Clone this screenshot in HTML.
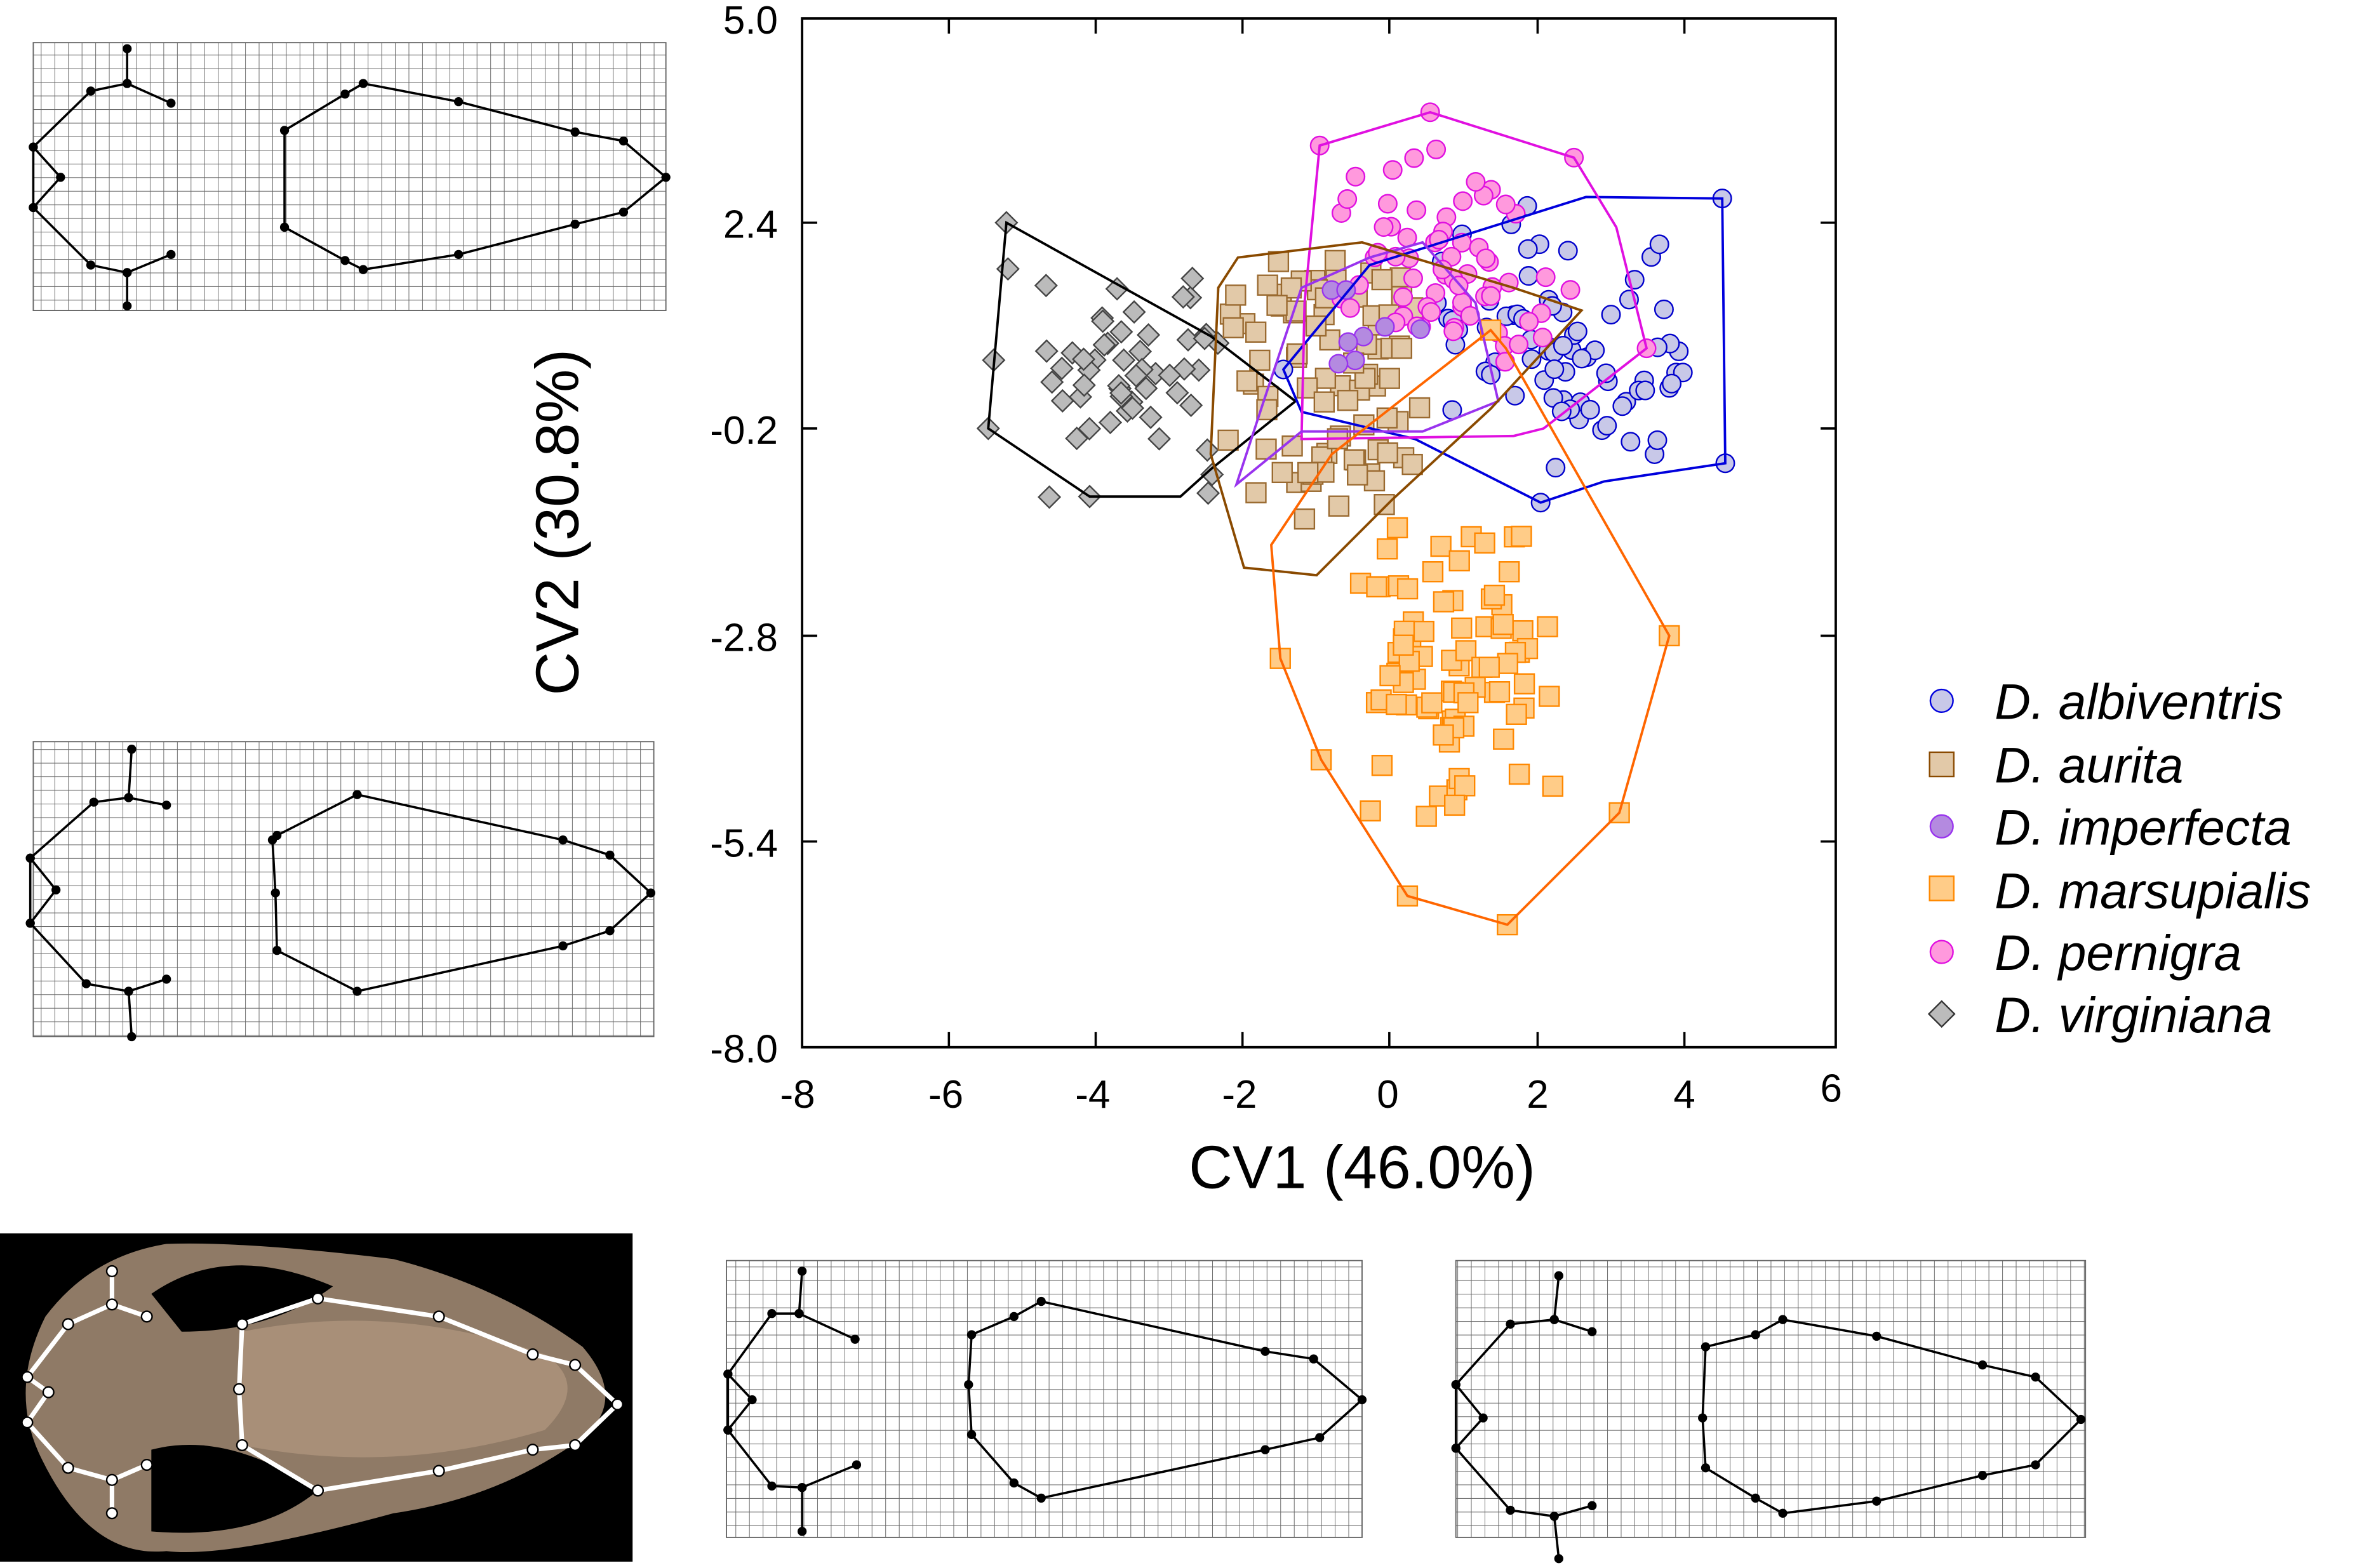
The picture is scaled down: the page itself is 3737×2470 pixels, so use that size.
<!DOCTYPE html>
<html><head><meta charset="utf-8"><style>
html,body{margin:0;padding:0;background:#fff;}
svg{display:block;}
text{font-family:"Liberation Sans",Arial,sans-serif;}
</style></head><body>
<svg id="s" width="3737" height="2470" viewBox="0 0 1568 1036" xmlns="http://www.w3.org/2000/svg">
<defs>
<pattern id="g" width="9" height="9" patternUnits="userSpaceOnUse">
<path d="M0 0H9M0 0V9" stroke="#666" stroke-width="0.8" fill="none"/>
</pattern>
</defs>
<rect x="22" y="28" width="418" height="177" fill="url(#g)" stroke="#666" stroke-width="0.8"/>
<rect x="22" y="490" width="410" height="195" fill="url(#g)" stroke="#666" stroke-width="0.8"/>
<rect x="480" y="833" width="420" height="183" fill="url(#g)" stroke="#666" stroke-width="0.8"/>
<rect x="962" y="833" width="416" height="183" fill="url(#g)" stroke="#666" stroke-width="0.8"/>
<g id="shapes" stroke="#000" stroke-width="1.5" fill="none"></g>
<rect x="0" y="815" width="418" height="217" fill="#000"/>
<g>
<path d="M30 870 Q60 830 110 822 Q160 820 260 832 Q330 850 385 890 Q415 925 385 950 Q330 990 260 1000 Q150 1030 110 1025 Q60 1030 28 965 Q5 920 30 870Z" fill="#8f7a66"/>
<path d="M160 880 Q260 860 360 895 Q390 915 360 945 Q260 975 160 955Z" fill="#a88f78"/>
<path d="M100 855 Q150 820 220 850 Q180 880 120 880Z" fill="#000"/>
<path d="M100 958 Q150 945 210 985 Q170 1018 100 1012Z" fill="#000"/>
<polyline points="74,840 74,862 45,875 18,910 32,920 18,940 45,970 74,978 74,1000" stroke="#fff" stroke-width="3" fill="none"/>
<polyline points="74,862 97,870" stroke="#fff" stroke-width="3"/>
<polyline points="74,978 97,968" stroke="#fff" stroke-width="3"/>
<polyline points="158,918 160,875 210,858 290,870 352,895 380,902 408,928 380,955 352,958 290,972 210,985 160,955 158,918" stroke="#fff" stroke-width="3" fill="none"/>
</g>
<g id="photodots" fill="#fff" stroke="#000" stroke-width="1"></g>
<rect x="530" y="12" width="683" height="680" fill="#fff" stroke="#000" stroke-width="1.6"/>
<g stroke="#000" stroke-width="1.5">
<line x1="530" y1="147" x2="540" y2="147"/><line x1="530" y1="283" x2="540" y2="283"/><line x1="530" y1="420" x2="540" y2="420"/><line x1="530" y1="556" x2="540" y2="556"/>
<line x1="1203" y1="147" x2="1213" y2="147"/><line x1="1203" y1="283" x2="1213" y2="283"/><line x1="1203" y1="420" x2="1213" y2="420"/><line x1="1203" y1="556" x2="1213" y2="556"/>
<line x1="627" y1="692" x2="627" y2="682"/><line x1="724" y1="692" x2="724" y2="682"/><line x1="821" y1="692" x2="821" y2="682"/><line x1="918" y1="692" x2="918" y2="682"/><line x1="1016" y1="692" x2="1016" y2="682"/><line x1="1113" y1="692" x2="1113" y2="682"/>
<line x1="627" y1="12" x2="627" y2="22"/><line x1="724" y1="12" x2="724" y2="22"/><line x1="821" y1="12" x2="821" y2="22"/><line x1="918" y1="12" x2="918" y2="22"/><line x1="1016" y1="12" x2="1016" y2="22"/><line x1="1113" y1="12" x2="1113" y2="22"/>
</g>
<g font-size="26" text-anchor="end" fill="#000">
<text x="514" y="22">5.0</text><text x="514" y="157">2.4</text><text x="514" y="293">-0.2</text><text x="514" y="430">-2.8</text><text x="514" y="566">-5.4</text><text x="514" y="702">-8.0</text>
</g>
<g font-size="26" text-anchor="middle" fill="#000">
<text x="527" y="732">-8</text><text x="625" y="732">-6</text><text x="722" y="732">-4</text><text x="819" y="732">-2</text><text x="917" y="732">0</text><text x="1016" y="732">2</text><text x="1113" y="732">4</text><text x="1210" y="728">6</text>
</g>
<text x="900" y="785" font-size="40" text-anchor="middle">CV1 (46.0%)</text>
<text transform="translate(382,345) rotate(-90)" font-size="40" text-anchor="middle">CV2 (30.8%)</text>
<g id="pts"></g>
<g fill="none" stroke-width="1.6">
<polygon stroke="#000" points="665,147 800,222 856,265 800,310 780,328 720,328 653,283"/>
<polygon stroke="#0000dd" points="848,244 905,175 1048,130 1138,131 1140,306 1060,318 1018,332 935,290 860,272"/>
<polygon stroke="#e010e0" points="872,96 945,74 1040,104 1068,150 1088,230 1020,283 1000,288 860,290 862,200"/>
<polygon stroke="#9933ee" points="817,320 835,265 860,190 905,170 940,160 975,200 990,265 940,285 860,285"/>
<polygon stroke="#8a4a00" points="800,300 805,190 818,170 900,160 1000,190 1045,205 985,270 920,330 870,380 822,375"/>
<polygon stroke="#ff6600" points="985,218 995,230 1103,420 1070,537 996,611 930,592 873,502 846,435 840,360 880,300"/>
</g>
<g font-size="33" font-style="italic" fill="#000">
<circle cx="1283" cy="463" r="7.5" fill="#c8c8e8" stroke="#0000dd"/><text x="1318" y="475">D. albiventris</text>
<rect x="1275" y="497" width="16" height="16" fill="#e2c9a8" stroke="#8a4a00"/><text x="1318" y="517">D. aurita</text>
<circle cx="1283" cy="546" r="7.5" fill="#b48ae0" stroke="#9933ee"/><text x="1318" y="558">D. imperfecta</text>
<rect x="1275" y="579" width="16" height="16" fill="#ffcc88" stroke="#ff8800"/><text x="1318" y="600">D. marsupialis</text>
<circle cx="1283" cy="629" r="7.5" fill="#ff99dd" stroke="#e010e0"/><text x="1318" y="641">D. pernigra</text>
<rect x="1277" y="664" width="12" height="12" fill="#bbb" stroke="#333" transform="rotate(45 1283 670)"/><text x="1318" y="682">D. virginiana</text>
</g>
</svg>
<script>
var NS="http://www.w3.org/2000/svg",s=document.getElementById('shapes');
function el(p,t,a){var e=document.createElementNS(NS,t);for(var k in a)e.setAttribute(k,a[k]);p.appendChild(e);return e;}
function skull(L,R){
 var f=function(a){return a.map(function(p){return p[0]+","+p[1]}).join(" ")};
 L.forEach(function(c){el(s,'polyline',{points:f(c)});});
 el(s,'polygon',{points:f(R)});
 var all=[];L.forEach(function(c){all=all.concat(c)});all=all.concat(R);
 all.forEach(function(p){el(s,'circle',{cx:p[0],cy:p[1],r:3,fill:'#000',stroke:'none'});});
}
skull([[[84,32],[84,55],[113,68]],[[84,55],[60,60],[22,97],[40,117],[22,137],[60,175],[84,180],[113,168]],[[22,97],[22,137]],[[84,180],[84,202]]],
 [[188,86],[228,62],[240,55],[303,67],[380,87],[412,93],[440,117],[412,140],[380,148],[303,168],[240,178],[228,172],[188,150]]);
skull([[[87,495],[85,527],[110,532]],[[85,527],[62,530],[20,567],[37,588],[20,610],[57,650],[85,655],[110,647]],[[20,567],[20,610]],[[85,655],[87,685]]],
 [[180,555],[183,552],[236,525],[372,555],[403,565],[430,590],[403,615],[372,625],[236,655],[183,628],[182,590]]);
skull([[[530,840],[528,868],[565,885]],[[528,868],[510,868],[481,908],[497,925],[481,945],[510,982],[530,983],[566,968]],[[481,908],[481,945]],[[530,983],[530,1012]]],
 [[642,882],[670,870],[688,860],[836,893],[868,898],[900,925],[872,950],[836,958],[688,990],[670,980],[642,948],[640,915]]);
skull([[[1030,843],[1027,872],[1052,880]],[[1027,872],[998,875],[962,915],[980,937],[962,957],[998,998],[1027,1002],[1052,995]],[[962,915],[962,957]],[[1027,1002],[1030,1030]]],
 [[1127,890],[1160,882],[1178,872],[1240,883],[1310,902],[1345,910],[1375,938],[1345,968],[1310,975],[1240,992],[1178,1000],[1160,990],[1127,970],[1125,937]]);
var pd=document.getElementById('photodots');
[[74,840],[74,862],[45,875],[18,910],[32,920],[18,940],[45,970],[74,978],[74,1000],[97,870],[97,968],[158,918],[160,875],[210,858],[290,870],[352,895],[380,902],[408,928],[380,955],[352,958],[290,972],[210,985],[160,955]].forEach(function(p){el(pd,'circle',{cx:p[0],cy:p[1],r:3.5});});
var seed=7;function r(){seed=(seed*16807)%2147483647;return seed/2147483647;}
function g(){return (r()+r()-1);}
var P=document.getElementById('pts');
function cloud(n,cx,cy,sx,sy,type,fill,stroke){for(var i=0;i<n;i++){var x=cx+g()*sx,y=cy+g()*sy;
 if(type=='c')el(P,'circle',{cx:x,cy:y,r:6,fill:fill,stroke:stroke,'stroke-width':1});
 else if(type=='s')el(P,'rect',{x:x-6.5,y:y-6.5,width:13,height:13,fill:fill,stroke:stroke,'stroke-width':1});
 else el(P,'rect',{x:x-5,y:y-5,width:10,height:10,fill:fill,stroke:stroke,'stroke-width':1,transform:'rotate(45 '+x+' '+y+')'});}}
cloud(55,735,250,85,80,'d','#bbb','#444');
cloud(75,1035,225,95,90,'c','#c8c8e8','#0000cc');
cloud(85,880,250,85,100,'s','#e2c9a8','#9a6a30');
cloud(65,960,170,90,75,'c','#ff99dd','#e010e0');
cloud(8,900,220,60,60,'c','#b48ae0','#9933ee');
cloud(85,960,440,80,100,'s','#ffcc88','#ff8800');
[[985,218],[1103,420],[1070,537],[996,611],[930,592],[873,502],[846,435]].forEach(function(p){el(P,'rect',{x:p[0]-6.5,y:p[1]-6.5,width:13,height:13,fill:'#ffcc88',stroke:'#ff8800'});});
[[1138,131],[1140,306],[1018,332],[848,244]].forEach(function(p){el(P,'circle',{cx:p[0],cy:p[1],r:6,fill:'#c8c8e8',stroke:'#0000cc'});});
[[872,96],[945,74],[1040,104],[1088,230]].forEach(function(p){el(P,'circle',{cx:p[0],cy:p[1],r:6,fill:'#ff99dd',stroke:'#e010e0'});});
[[665,147],[653,283],[720,328]].forEach(function(p){el(P,'rect',{x:p[0]-5,y:p[1]-5,width:10,height:10,fill:'#bbb',stroke:'#444',transform:'rotate(45 '+p[0]+' '+p[1]+')'});});
</script>
</body></html>
